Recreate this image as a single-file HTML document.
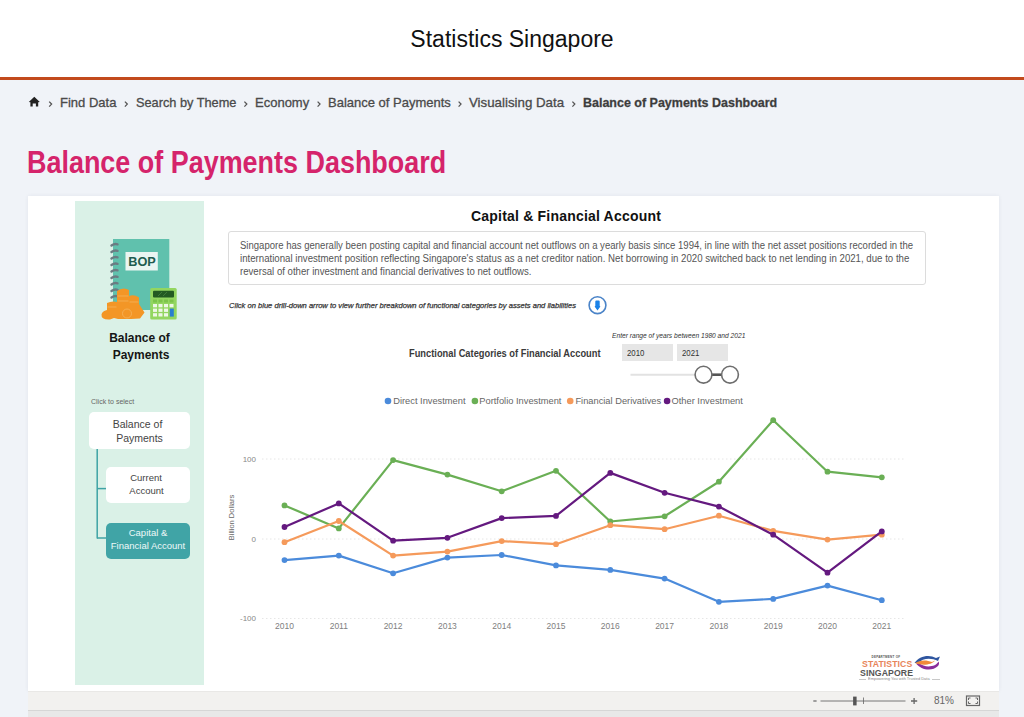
<!DOCTYPE html>
<html><head><meta charset="utf-8">
<style>
*{margin:0;padding:0;box-sizing:border-box}
html,body{width:1024px;height:717px;overflow:hidden;background:#f0f3f8;font-family:"Liberation Sans",sans-serif;position:relative}
.a{position:absolute;white-space:nowrap}
#hdr{left:0;top:0;width:1024px;height:77px;background:#fff}
#hline{left:0;top:77px;width:1024px;height:3px;background:#c24a1c}
#sitetitle{left:0;top:26px;width:1024px;text-align:center;font-size:23px;color:#111;line-height:26px}
.bc{top:96px;font-size:13px;color:#4a4a4a;line-height:14px;transform-origin:0 50%;-webkit-text-stroke:0.3px #4a4a4a}
.chev{top:96px;font-size:11px;color:#555;line-height:14px}
#pgtitle{left:27px;top:148px;font-size:31px;font-weight:bold;color:#d5246b;line-height:30px;transform-origin:0 50%;transform:scaleX(0.869)}
#panel{left:28px;top:196px;width:970.5px;height:494.5px;background:#fff;box-shadow:0 0 4px rgba(40,50,80,0.07)}
#green{left:75px;top:200.5px;width:129px;height:484.5px;background:#daf1e7}
#bar{left:28px;top:690.5px;width:970.5px;height:19.5px;background:#f2f1ef;border-top:1px solid #e9e8e6}
#bar2{left:28px;top:710px;width:970.5px;height:7px;background:#e8e8e8;border-top:1px solid #d6d6d6}
.bx{background:#fff;border-radius:5px}
.t{font-size:10px;color:#444;line-height:13px;text-align:center}
.para{left:240px;font-size:10px;color:#555;line-height:13px;transform-origin:0 50%}
</style></head><body>
<div class="a" id="hdr"></div>
<div class="a" id="hline"></div>
<div class="a" id="sitetitle">Statistics Singapore</div>

<svg class="a" style="left:0;top:0" width="60" height="120" viewBox="0 0 60 120"><path d="M34.3 96.8 L39.8 101.9 L38.2 102.3 L38.2 106.6 L35.9 106.6 L35.9 103.4 L32.7 103.4 L32.7 106.6 L30.4 106.6 L30.4 102.3 L28.8 101.9 Z" fill="#222"/></svg>
<svg class="a" style="left:0;top:0" width="1024" height="120" viewBox="0 0 1024 120"><g fill="none" stroke="#555" stroke-width="1.3"><path d="M49.2 101.6 L51.6 104.1 L49.2 106.6"/><path d="M124.9 101.6 L127.3 104.1 L124.9 106.6"/><path d="M244.4 101.6 L246.8 104.1 L244.4 106.6"/><path d="M317.6 101.6 L320.0 104.1 L317.6 106.6"/><path d="M458.6 101.6 L461.0 104.1 L458.6 106.6"/><path d="M572.4 101.6 L574.8 104.1 L572.4 106.6"/></g></svg>
<div class="a bc" style="left:60px">Find Data</div>
<div class="a bc" style="left:136px;transform:scaleX(0.981)">Search by Theme</div>
<div class="a bc" style="left:255px">Economy</div>
<div class="a bc" style="left:328px">Balance of Payments</div>
<div class="a bc" style="left:469px;transform:scaleX(1.022)">Visualising Data</div>
<div class="a bc" style="left:583px;font-weight:bold;color:#3a3a3a;transform:scaleX(0.96)">Balance of Payments Dashboard</div>

<div class="a" id="pgtitle">Balance of Payments Dashboard</div>

<div class="a" id="panel"></div>
<div class="a" id="green"></div>
<div class="a" id="bar"></div>
<div class="a" id="bar2"></div>

<!-- BOP illustration -->
<svg class="a" style="left:0;top:0" width="1024" height="717" viewBox="0 0 1024 717">
  <rect x="113" y="239" width="56.3" height="71" fill="#60c1ad"/>
  <rect x="125.5" y="252" width="32.3" height="18.5" fill="#e9f5f1"/>
  <text x="142" y="266" font-family="Liberation Sans" font-weight="bold" font-size="13" fill="#215c4f" text-anchor="middle" textLength="27.5" lengthAdjust="spacingAndGlyphs">BOP</text>
  <g stroke="#6b7b82" stroke-width="2.4" stroke-linecap="round" fill="none"><path d="M111.5 245.5 q3 -2.2 6 -1.2" /><path d="M111.5 252.0 q3 -2.2 6 -1.2" /><path d="M111.5 258.5 q3 -2.2 6 -1.2" /><path d="M111.5 265.0 q3 -2.2 6 -1.2" /><path d="M111.5 271.5 q3 -2.2 6 -1.2" /><path d="M111.5 278.0 q3 -2.2 6 -1.2" /><path d="M111.5 284.5 q3 -2.2 6 -1.2" /><path d="M111.5 291.0 q3 -2.2 6 -1.2" /><path d="M111.5 297.5 q3 -2.2 6 -1.2" /></g>
  <g fill="#f39626">
    <path d="M117 291 Q123 286.5 129 290 L129 296 Q134 294 139 297.5 L139 304 L144.5 312.5 L140 318.5 L131 319 L118 319 L114 318 L110 319.5 Q101 320 101.5 314.5 Q102 311 107 310 L107 303 Q112 300.5 117 302 Z"/>
  </g>
  <g fill="none" stroke="#f7b45c" stroke-width="0.9" opacity="0.9">
    <circle cx="127" cy="313.5" r="4.5"/>
    <path d="M117.5 296 H128.5 M117.5 301 H128.5 M129.5 302 H138.5 M107.5 307 H116.5"/>
  </g>
  <rect x="150.2" y="288" width="26.5" height="31.5" rx="1.5" fill="#93d660"/>
  <rect x="153" y="290.8" width="21" height="6.6" rx="1" fill="#235a22"/>
  <path d="M158 296 l4 -4 M163 296 l4 -4" stroke="#3f7a3a" stroke-width="1"/>
  <g fill="#7cc34a">
    <rect x="153" y="299.5" width="4" height="3"/><rect x="158.5" y="299.5" width="4" height="3"/><rect x="164" y="299.5" width="4" height="3"/><rect x="169.5" y="299.5" width="4" height="3"/>
  </g>
  <g fill="#edf7e6">
    <rect x="153" y="304" width="4" height="3.3"/><rect x="158.5" y="304" width="4" height="3.3"/><rect x="164" y="304" width="4" height="3.3"/><rect x="169.5" y="304" width="4" height="3.3"/>
    <rect x="153" y="308.6" width="4" height="3.3"/><rect x="158.5" y="308.6" width="4" height="3.3"/><rect x="164" y="308.6" width="4" height="3.3"/>
    <rect x="153" y="313.2" width="4" height="3.3"/><rect x="158.5" y="313.2" width="4" height="3.3"/><rect x="164" y="313.2" width="4" height="3.3"/>
  </g>
  <rect x="169.8" y="308.6" width="4" height="8" fill="#2a7fd0"/>

  <!-- left nav tree -->
  <g stroke="#3fa3a5" stroke-width="1.5" fill="none">
    <line x1="97.2" y1="448" x2="97.2" y2="538.5"/>
    <line x1="97" y1="488.6" x2="106" y2="488.6"/>
    <line x1="97" y1="538" x2="106" y2="538"/>
  </g>

  <!-- chart gridlines -->
  <g stroke="#e6e6e6" stroke-width="1" stroke-dasharray="1.5,2.5">
    <line x1="262" y1="459" x2="904" y2="459"/>
    <line x1="262" y1="539" x2="904" y2="539"/>
    <line x1="262" y1="618.5" x2="904" y2="618.5"/>
  </g>
  <g font-family="Liberation Sans" font-size="8" fill="#888" text-anchor="end">
    <text x="256" y="462">100</text>
    <text x="256" y="542">0</text>
    <text x="256" y="620.5">-100</text>
  </g>
  <g font-family="Liberation Sans" font-size="8.5" fill="#808080" text-anchor="middle">
    <text x="284.5" y="629">2010</text><text x="338.8" y="629">2011</text><text x="393.1" y="629">2012</text>
    <text x="447.4" y="629">2013</text><text x="501.7" y="629">2014</text><text x="556" y="629">2015</text>
    <text x="610.3" y="629">2016</text><text x="664.6" y="629">2017</text><text x="718.9" y="629">2018</text>
    <text x="773.2" y="629">2019</text><text x="827.5" y="629">2020</text><text x="881.8" y="629">2021</text>
  </g>
  <text transform="translate(234,517.5) rotate(-90)" font-family="Liberation Sans" font-size="7.5" fill="#666" text-anchor="middle">Billion Dollars</text>
<polyline points="284.5,560.1 338.8,555.6 393.1,573.3 447.4,557.6 501.7,555.0 556.0,565.4 610.3,569.9 664.6,578.6 718.9,601.8 773.2,598.9 827.5,585.6 881.8,600.2" fill="none" stroke="#4b8bdb" stroke-width="2.2" stroke-linejoin="round"/>
<g fill="#4b8bdb"><circle cx="284.5" cy="560.1" r="2.9"/><circle cx="338.8" cy="555.6" r="2.9"/><circle cx="393.1" cy="573.3" r="2.9"/><circle cx="447.4" cy="557.6" r="2.9"/><circle cx="501.7" cy="555.0" r="2.9"/><circle cx="556.0" cy="565.4" r="2.9"/><circle cx="610.3" cy="569.9" r="2.9"/><circle cx="664.6" cy="578.6" r="2.9"/><circle cx="718.9" cy="601.8" r="2.9"/><circle cx="773.2" cy="598.9" r="2.9"/><circle cx="827.5" cy="585.6" r="2.9"/><circle cx="881.8" cy="600.2" r="2.9"/></g>
<polyline points="284.5,505.4 338.8,528.4 393.1,460.1 447.4,474.6 501.7,491.3 556.0,470.8 610.3,521.5 664.6,516.3 718.9,481.7 773.2,420.2 827.5,471.7 881.8,477.3" fill="none" stroke="#6aaf55" stroke-width="2.2" stroke-linejoin="round"/>
<g fill="#6aaf55"><circle cx="284.5" cy="505.4" r="2.9"/><circle cx="338.8" cy="528.4" r="2.9"/><circle cx="393.1" cy="460.1" r="2.9"/><circle cx="447.4" cy="474.6" r="2.9"/><circle cx="501.7" cy="491.3" r="2.9"/><circle cx="556.0" cy="470.8" r="2.9"/><circle cx="610.3" cy="521.5" r="2.9"/><circle cx="664.6" cy="516.3" r="2.9"/><circle cx="718.9" cy="481.7" r="2.9"/><circle cx="773.2" cy="420.2" r="2.9"/><circle cx="827.5" cy="471.7" r="2.9"/><circle cx="881.8" cy="477.3" r="2.9"/></g>
<polyline points="284.5,542.2 338.8,521.0 393.1,555.6 447.4,551.6 501.7,541.1 556.0,544.2 610.3,525.2 664.6,529.2 718.9,515.7 773.2,530.9 827.5,539.6 881.8,534.7" fill="none" stroke="#f59a5b" stroke-width="2.2" stroke-linejoin="round"/>
<g fill="#f59a5b"><circle cx="284.5" cy="542.2" r="2.9"/><circle cx="338.8" cy="521.0" r="2.9"/><circle cx="393.1" cy="555.6" r="2.9"/><circle cx="447.4" cy="551.6" r="2.9"/><circle cx="501.7" cy="541.1" r="2.9"/><circle cx="556.0" cy="544.2" r="2.9"/><circle cx="610.3" cy="525.2" r="2.9"/><circle cx="664.6" cy="529.2" r="2.9"/><circle cx="718.9" cy="515.7" r="2.9"/><circle cx="773.2" cy="530.9" r="2.9"/><circle cx="827.5" cy="539.6" r="2.9"/><circle cx="881.8" cy="534.7" r="2.9"/></g>
<polyline points="284.5,527.0 338.8,503.4 393.1,540.7 447.4,537.8 501.7,518.1 556.0,515.9 610.3,472.9 664.6,492.8 718.9,506.6 773.2,534.7 827.5,572.7 881.8,531.4" fill="none" stroke="#64197f" stroke-width="2.2" stroke-linejoin="round"/>
<g fill="#64197f"><circle cx="284.5" cy="527.0" r="2.9"/><circle cx="338.8" cy="503.4" r="2.9"/><circle cx="393.1" cy="540.7" r="2.9"/><circle cx="447.4" cy="537.8" r="2.9"/><circle cx="501.7" cy="518.1" r="2.9"/><circle cx="556.0" cy="515.9" r="2.9"/><circle cx="610.3" cy="472.9" r="2.9"/><circle cx="664.6" cy="492.8" r="2.9"/><circle cx="718.9" cy="506.6" r="2.9"/><circle cx="773.2" cy="534.7" r="2.9"/><circle cx="827.5" cy="572.7" r="2.9"/><circle cx="881.8" cy="531.4" r="2.9"/></g>

  <!-- legend -->
  <circle cx="388" cy="401" r="3.3" fill="#4b8bdb"/>
  <circle cx="474.9" cy="401" r="3.3" fill="#6aaf55"/>
  <circle cx="570.2" cy="401" r="3.3" fill="#f59a5b"/>
  <circle cx="667.1" cy="401" r="3.3" fill="#64197f"/>
  <g font-family="Liberation Sans" font-size="9.3" fill="#666">
    <text x="393.2" y="404.2">Direct Investment</text>
    <text x="479.3" y="404.2">Portfolio Investment</text>
    <text x="575.4" y="404.2">Financial Derivatives</text>
    <text x="671.5" y="404.2">Other Investment</text>
  </g>

  <!-- drill icon -->
  <circle cx="597.5" cy="305.2" r="8.4" fill="#fff" stroke="#4b84c8" stroke-width="1.6"/>
  <path d="M595.3 301.6 Q595.3 300.6 596.3 300.6 H598.7 Q599.7 300.6 599.7 301.6 V306 L600.4 306.6 L597.5 310.4 L594.6 306.6 L595.3 306 Z" fill="#1a82e8"/>

  <!-- slider -->
  <line x1="630.5" y1="374.7" x2="695" y2="374.7" stroke="#e2e2e2" stroke-width="2"/>
  <line x1="712" y1="374.7" x2="721.5" y2="374.7" stroke="#555" stroke-width="2.6"/>
  <circle cx="703.5" cy="374.7" r="8.4" fill="#fff" stroke="#6e6e6e" stroke-width="1.6"/>
  <circle cx="730" cy="374.7" r="8.4" fill="#fff" stroke="#6e6e6e" stroke-width="1.6"/>

  <!-- zoom bar -->
  <line x1="813.3" y1="701" x2="816.6" y2="701" stroke="#666" stroke-width="1.2"/>
  <line x1="820.5" y1="701" x2="905.5" y2="701" stroke="#777" stroke-width="1"/>
  <rect x="853.1" y="696.6" width="3.5" height="8.8" fill="#555"/>
  <line x1="863.5" y1="697.5" x2="863.5" y2="704" stroke="#666" stroke-width="0.8"/>
  <path d="M911 701 H917.2 M914.1 697.9 V704.1" stroke="#666" stroke-width="1.3"/>
  <rect x="966.5" y="696" width="13" height="9.5" fill="none" stroke="#666" stroke-width="1.2"/>
  <path d="M968.5 698 l2 0 M968.5 698 l0 2 M977.5 698 l-2 0 M977.5 698 l0 2 M968.5 703.5 l2 0 M968.5 703.5 l0 -2 M977.5 703.5 l-2 0 M977.5 703.5 l0 -2" stroke="#666" stroke-width="1"/>
</svg>

<div class="a" style="left:934px;top:694px;font-size:10px;color:#666;line-height:13px">81%</div>

<!-- left panel texts -->
<div class="a" style="left:75px;top:330px;width:129px;text-align:center;font-size:12px;font-weight:bold;color:#151515;line-height:17px;white-space:normal">Balance of<br><span style="position:relative;left:1.5px">Payments</span></div>
<div class="a" style="left:91px;top:397px;font-size:7px;color:#666;line-height:9px">Click to select</div>
<div class="a bx" style="left:89px;top:412px;width:101px;height:37px"></div>
<div class="a t" style="left:87px;top:417px;width:101px;line-height:14px;font-size:10.5px;color:#444">Balance of<br><span style="position:relative;left:2px">Payments</span></div>
<div class="a bx" style="left:106px;top:467px;width:84px;height:36px"></div>
<div class="a t" style="left:104px;top:472px;width:84px;line-height:12.7px;font-size:9.5px;color:#444">Current<br><span style="position:relative;left:0.5px">Account</span></div>
<div class="a bx" style="left:106px;top:522.5px;width:84px;height:36.5px;background:#40a4a6"></div>
<div class="a t" style="left:106px;top:527px;width:84px;line-height:12.7px;font-size:9.5px;color:#eef8f8">Capital &amp;<br>Financial Account</div>

<!-- right content -->
<div class="a" style="left:471px;top:208px;font-size:14px;font-weight:bold;color:#111;line-height:16px;letter-spacing:0.2px">Capital &amp; Financial Account</div>
<div class="a" style="left:228px;top:230.5px;width:697.5px;height:54px;border:1px solid #dcdcdc;border-radius:3px"></div>
<div class="a para" style="top:238.5px;transform:scaleX(0.954)">Singapore has generally been posting capital and financial account net outflows on a yearly basis since 1994, in line with the net asset positions recorded in the</div>
<div class="a para" style="top:251.5px;transform:scaleX(0.966)">international investment position reflecting Singapore's status as a net creditor nation. Net borrowing in 2020 switched back to net lending in 2021, due to the</div>
<div class="a para" style="top:264.5px;transform:scaleX(0.962)">reversal of other investment and financial derivatives to net outflows.</div>
<div class="a" style="left:229px;top:300.5px;font-size:7.9px;font-style:italic;color:#333;line-height:10px;transform-origin:0 50%;transform:scaleX(0.959);-webkit-text-stroke:0.25px #333">Click on blue drill-down arrow to view further breakdown of functional categories by assets and liabilities</div>

<div class="a" style="left:409px;top:347.5px;font-size:10px;font-weight:bold;color:#3a3a3a;line-height:12px;transform-origin:0 50%;transform:scaleX(0.931)">Functional Categories of Financial Account</div>
<div class="a" style="left:612px;top:331px;font-size:7px;font-style:italic;color:#333;line-height:10px;transform-origin:0 50%;transform:scaleX(0.949)">Enter range of years between 1980 and 2021</div>
<div class="a" style="left:622px;top:343.7px;width:50.8px;height:17px;background:#e6e6e6"></div>
<div class="a" style="left:677.3px;top:343.7px;width:50.5px;height:17px;background:#e6e6e6"></div>
<div class="a" style="left:627px;top:347px;font-size:9px;color:#333;line-height:12px;transform-origin:0 50%;transform:scaleX(0.87)">2010</div>
<div class="a" style="left:682px;top:347px;font-size:9px;color:#333;line-height:12px;transform-origin:0 50%;transform:scaleX(0.87)">2021</div>

<!-- logo -->
<div class="a" id="lg1" style="left:871.5px;top:655px;font-size:3px;font-weight:bold;color:#555;line-height:4px;letter-spacing:0.25px">DEPARTMENT OF</div>
<div class="a" id="lg2" style="left:862px;top:659px;font-size:8.7px;font-weight:bold;color:#e8855a;line-height:10px;letter-spacing:0.1px">STATISTICS</div>
<div class="a" id="lg3" style="left:860px;top:668px;font-size:8.7px;font-weight:bold;color:#555;line-height:10px;letter-spacing:0.1px">SINGAPORE</div>
<div class="a" style="left:859px;top:679px;width:80.5px;height:0.8px;background:#c8c8c8"></div>
<div class="a" style="left:866px;top:677.5px;width:66px;height:3.5px;background:#fff"></div>
<div class="a" style="left:867.5px;top:677px;font-size:3.3px;color:#888;line-height:4px;transform-origin:0 50%;transform:scaleX(1.2)">Empowering You with Trusted Data</div>
<svg class="a" style="left:912px;top:653px" width="30" height="19" viewBox="0 0 30 19">
  <path d="M2.5 10 C7 3, 17 1, 24 5 L28 3.5 L26 8 C19 4.5, 11 5, 6 10 Z" fill="#2f56a0"/>
  <path d="M4 10.5 C9 17, 20 19, 26 13 C27 11.5, 27.5 10, 26.5 8.5 C24 14, 13 15.5, 7 10 Z" fill="#8a2d9a"/>
  <path d="M3 10 C8 7, 14 6.5, 20 9 L23 7.5 C20 12, 10 13, 3 10 Z" fill="#ef8a3a"/>
</svg>
</body></html>
